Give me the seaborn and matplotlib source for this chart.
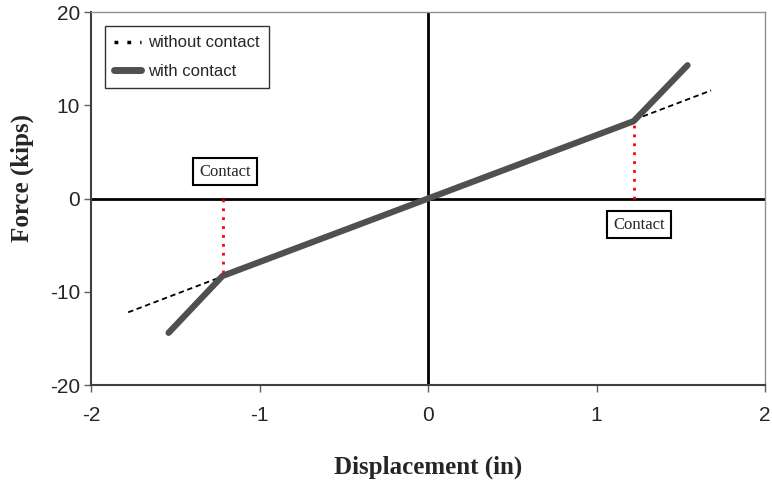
import matplotlib
matplotlib.use("Agg")
import matplotlib.pyplot as plt
import seaborn as sns
import pandas as pd

# Data
without_x = [-1.78, 1.68]
without_y = [-12.2, 11.6]
with_x = [-1.54, -1.22, 0.0, 1.22, 1.54]
with_y = [-14.4, -8.3, 0.0, 8.3, 14.3]
contact_x = [-1.22, 1.22]
contact_y = [-8.3, 8.3]
contact_labels = ["Contact", "Contact"]
label_pos_x = [-1.205, 1.252]
label_pos_y = [2.9, -2.8]

sns.set_theme(style="white")
plt.rcParams['font.family'] = ['Liberation Sans', 'DejaVu Sans']
plt.rcParams['axes.unicode_minus'] = False

fig = plt.figure(figsize=(7.72, 4.84), dpi=100)
ax = fig.add_axes([0.118, 0.2045, 0.873, 0.7705])

ax.axhline(0, color="black", lw=2, zorder=1)
ax.axvline(0, color="black", lw=2, zorder=1)

df_wo = pd.DataFrame({"x": without_x, "y": without_y})
df_w = pd.DataFrame({"x": with_x, "y": with_y})
sns.lineplot(data=df_wo, x="x", y="y", ax=ax, color="black", lw=1.3,
             linestyle=(0, (3, 2)), sort=False, label="without contact", zorder=2)
sns.lineplot(data=df_w, x="x", y="y", ax=ax, color="#505050", lw=4.5,
             sort=False, label="with contact", zorder=3)

for cx, cy in zip(contact_x, contact_y):
    ax.plot([cx, cx], [0, cy], color="red", lw=2, linestyle=(0, (1, 2.2)), zorder=4)

for t, lx, ly in zip(contact_labels, label_pos_x, label_pos_y):
    ax.text(lx, ly, t, ha="center", va="center", family="Liberation Serif", fontsize=12,
            bbox=dict(boxstyle="square,pad=0.35", fc="white", ec="black", lw=1.5))

ax.set_xlim(-2, 2)
ax.set_ylim(-20, 20)
ax.set_xticks([-2, -1, 0, 1, 2])
ax.set_yticks([-20, -10, 0, 10, 20])
ax.tick_params(axis="both", direction="out", length=5, width=1, color="#606060",
               labelsize=15, bottom=True, left=True)
ax.tick_params(axis="x", pad=10)
ax.tick_params(axis="y", pad=3)
for s in ax.spines.values():
    s.set_color("#909090")
    s.set_linewidth(1)
ax.spines["left"].set_color("#404040")
ax.spines["left"].set_linewidth(1.5)
ax.spines["bottom"].set_color("#404040")
ax.spines["bottom"].set_linewidth(1.5)

ax.set_xlabel("Displacement (in)", family="Liberation Serif", fontweight="bold", fontsize=18)
ax.set_ylabel("Force (kips)", family="Liberation Serif", fontweight="bold", fontsize=18)
ax.xaxis.set_label_coords(0.5, -0.188)
ax.yaxis.set_label_coords(-0.084, 0.554)

leg = ax.legend(loc="upper left", bbox_to_anchor=(0.021, 0.962), frameon=True,
                fancybox=False, edgecolor="black", fontsize=12, handlelength=1.6,
                handletextpad=0.4, borderpad=0.55, labelspacing=0.8, borderaxespad=0)
leg.get_frame().set_linewidth(1)
leg.get_lines()[0].set_linewidth(2.5)
leg.get_lines()[0].set_linestyle((0, (1.1, 2.6)))
leg.get_lines()[1].set_linewidth(5)

fig.savefig("out.png", dpi=100)
